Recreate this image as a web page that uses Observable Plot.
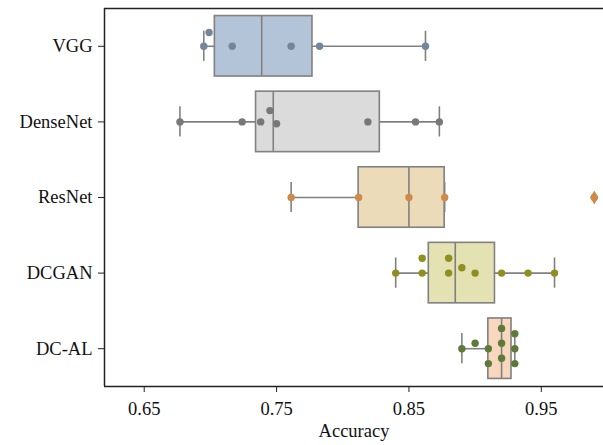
<!DOCTYPE html>
<html><head><meta charset="utf-8">
<script src="https://cdn.jsdelivr.net/npm/d3@7"></script>
<script src="https://cdn.jsdelivr.net/npm/@observablehq/plot@0.6"></script>
<style>
body{margin:0;background:#fff;}
#chart svg{font-family:"Liberation Serif","Times New Roman",serif;}
</style></head><body><div id="chart"></div>
<script>
// ---- data ----
const models = ["VGG", "DenseNet", "ResNet", "DCGAN", "DC-AL"];
const vgg      = [0.695, 0.699, 0.7165, 0.761, 0.7825, 0.8625];
const densenet = [0.677, 0.724, 0.738, 0.745, 0.750, 0.819, 0.855, 0.873];
const resnet   = [0.761, 0.812, 0.850, 0.877, 0.990];
const dcgan    = [0.84, 0.86, 0.86, 0.88, 0.88, 0.89, 0.90, 0.92, 0.94, 0.96];
const dcal     = [0.89, 0.90, 0.91, 0.91, 0.92, 0.92, 0.92, 0.93, 0.93, 0.93];
const xTicks   = [0.65, 0.75, 0.85, 0.95];
const boxFills = ["#b3c3d8", "#dbdbdb", "#ecdbb9", "#e4e1b3", "#f7d7bd"];
const dotFills = ["#75869a", "#787878", "#cd8a48", "#8f8e1e", "#5d7a3b"];

const series = [vgg, densenet, resnet, dcgan, dcal];
const W = 603, H = 445, mL = 104, mR = 0, mT = 8, mB = 59;
const xDomain = [0.62, 0.997];
const xpx = d3.scaleLinear(xDomain, [mL, W - mR]);
const band = (H - mT - mB) / models.length;

// box statistics (Tukey, 1.5 IQR)
const stats = series.map((vals, i) => {
  const s = d3.sort(vals);
  const q1 = d3.quantileSorted(s, 0.25), med = d3.quantileSorted(s, 0.5), q3 = d3.quantileSorted(s, 0.75);
  const iqr = q3 - q1, lo = q1 - 1.5 * iqr, hi = q3 + 1.5 * iqr;
  const inside = s.filter(v => v >= lo && v <= hi);
  return {i, q1, med, q3, wlo: d3.min(inside), whi: d3.max(inside),
          outliers: s.filter(v => v < lo || v > hi)};
});
const outliers = stats.flatMap(d => d.outliers.map(v => ({i: d.i, v})));

// beeswarm layout (seaborn-like) in pixel space
const D = 14.2;
function swarm(vals, i) {
  const pts = vals.map(v => ({i, v, x: xpx(v), off: 0}));
  const order = d3.sort(d3.range(pts.length), k => pts[k].x);
  const placed = [];
  for (const k of order) {
    const p = pts[k];
    const nb = placed.filter(q => Math.abs(q.x - p.x) < D);
    const cands = [0];
    let leftFirst = true;
    for (const q of nb) {
      const dx = p.x - q.x;
      const dy = Math.sqrt(Math.max(D * D - dx * dx, 0)) * 1.05;
      cands.push(...(leftFirst ? [q.off - dy, q.off + dy] : [q.off + dy, q.off - dy]));
      leftFirst = !leftFirst;
    }
    const sorted = cands.map((c, j) => ({c, j})).sort((a, b) => Math.abs(a.c) - Math.abs(b.c) || a.j - b.j);
    for (const {c} of sorted) {
      if (nb.every(q => Math.hypot(q.x - p.x, q.off - c) >= D - 1e-6)) { p.off = c; break; }
    }
    placed.push(p);
  }
  return pts.map(p => ({i, v: p.v, y: i + p.off / band}));
}
const dots = series.flatMap((vals, i) => swarm(vals, i));

const grey = "#808080";
const chart = Plot.plot({
  width: W, height: H,
  marginLeft: mL, marginRight: mR, marginTop: mT, marginBottom: mB,
  style: {fontSize: "18.5px", fontFamily: "'Liberation Serif','Times New Roman',serif", color: "#111", background: "#fff"},
  x: {domain: xDomain},
  y: {domain: [models.length - 0.5, -0.5]},
  color: {type: "identity"},
  marks: [
    // whiskers
    Plot.ruleY(stats, {y: "i", x1: "wlo", x2: "q1", stroke: grey, strokeWidth: 1.6}),
    Plot.ruleY(stats, {y: "i", x1: "q3", x2: "whi", stroke: grey, strokeWidth: 1.6}),
    Plot.ruleX(stats, {x: "wlo", y1: d => d.i - 0.2, y2: d => d.i + 0.2, stroke: grey, strokeWidth: 1.6}),
    Plot.ruleX(stats, {x: "whi", y1: d => d.i - 0.2, y2: d => d.i + 0.2, stroke: grey, strokeWidth: 1.6}),
    // boxes
    Plot.rect(stats, {x1: "q1", x2: "q3", y1: d => d.i - 0.4, y2: d => d.i + 0.4,
      fill: d => boxFills[d.i], stroke: grey, strokeWidth: 1.6}),
    Plot.ruleX(stats, {x: "med", y1: d => d.i - 0.4, y2: d => d.i + 0.4, stroke: grey, strokeWidth: 1.6}),
    // fliers
    Plot.dot(outliers, {x: "v", y: "i", symbol: "diamond", r: 4.2, fill: d => dotFills[d.i]}),
    // swarm points
    Plot.dot(dots, {x: "v", y: "y", r: 3.7, fill: d => dotFills[d.i], stroke: "none"}),
    // frame (left, top, bottom)
    Plot.ruleX([xDomain[0]], {stroke: "#222", strokeWidth: 1.5}),
    Plot.ruleY([-0.5, models.length - 0.5], {stroke: "#222", strokeWidth: 1.5}),
    // axes
    Plot.axisX(xTicks, {tickSize: 6, tickPadding: 9, tickFormat: d3.format(".2f"), stroke: "#222",
      label: "Accuracy", labelAnchor: "center", labelOffset: 50, labelArrow: "none"}),
    Plot.axisY(d3.range(models.length), {tickSize: 6, tickPadding: 6, stroke: "#222",
      tickFormat: i => models[i], label: null})
  ]
});
document.getElementById("chart").append(chart);
</script></body></html>
